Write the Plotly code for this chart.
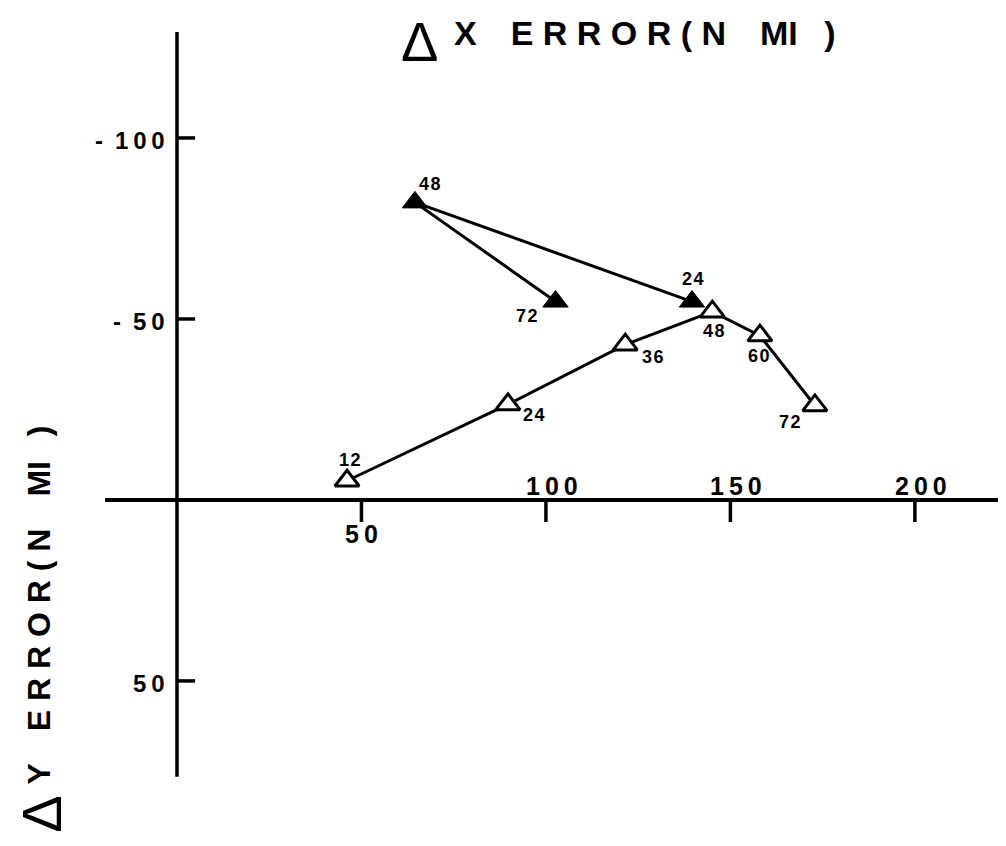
import plotly.graph_objects as go

# open triangles (forecast hours 12..72)
open_x = [46.1, 89.7, 121.5, 145.1, 158.0, 172.9]
open_y = [-5.3, -26.4, -42.9, -52.0, -45.4, -26.1]
open_lbl = ["12", "24", "36", "48", "60", "72"]

# filled triangles
fill_x = [102.6, 64.5, 139.6]
fill_y = [-54.8, -82.2, -54.8]
fill_lbl = ["72", "48", "24"]

x_ticks = [50, 100, 150, 200]
y_ticks = [-100, -50, 50]

# label offsets in pixels (dx, dy), dy up
open_off = [(3, 21), (26, -11), (28, -12), (2, -19), (-1, -20), (-25, -17)]
fill_off = [(-29, -14), (15, 18), (1, 23)]

FONT = "Liberation Sans, Arial, sans-serif"
THIN = "\u2009"
NB = "\u00a0"
EN = "\u2002"


def track(s, sep="\u200a"):
    """Spread characters apart a little, like the old lettering."""
    return sep.join(s)


def title_text(letter):
    word = NB.join("ERROR(N")
    return "<b>" + letter + EN + EN + word + EN + EN + "MI" + EN + NB + ")</b>"


fig = go.Figure()
fig.add_trace(go.Scatter(
    x=open_x, y=open_y, mode="lines+markers",
    line=dict(color="black", width=3),
    marker=dict(symbol="triangle-up", size=21, color="white",
                line=dict(color="black", width=3)),
))
fig.add_trace(go.Scatter(
    x=fill_x, y=fill_y, mode="lines+markers",
    line=dict(color="black", width=3),
    marker=dict(symbol="triangle-up", size=22, color="black",
                line=dict(color="black", width=1)),
))

ann = []
for x, y, t, (dx, dy) in zip(open_x + fill_x, open_y + fill_y,
                             open_lbl + fill_lbl, open_off + fill_off):
    ann.append(dict(x=x, y=y, text="<b>" + track(t) + "</b>", showarrow=False,
                    xshift=dx, yshift=dy,
                    font=dict(size=18, family=FONT, color="black")))

shapes = [
    dict(type="line", x0=-19.5, x1=228, y0=0, y1=0, line=dict(color="black", width=4)),
    dict(type="line", x0=0, x1=0, y0=-129.3, y1=76.5, line=dict(color="black", width=3.5)),
]
for v in x_ticks:
    shapes.append(dict(type="line", x0=v, x1=v, y0=0, y1=6.1, line=dict(color="black", width=3.5)))
    if v == 50:
        ann.append(dict(x=v, y=0, text="<b>" + track(str(v), THIN) + "</b>", showarrow=False,
                        xshift=0, yshift=-34,
                        font=dict(size=25, family=FONT, color="black")))
    else:
        ann.append(dict(x=v, y=0, text="<b>" + track(str(v), THIN) + "</b>", showarrow=False,
                        xshift=6, yshift=14,
                        font=dict(size=25, family=FONT, color="black")))
for v in y_ticks:
    shapes.append(dict(type="line", x0=0, x1=4.9, y0=v, y1=v, line=dict(color="black", width=3.5)))
    txt = track(str(abs(v)), THIN)
    if v < 0:
        txt = "-" + EN + txt
    ann.append(dict(x=0, y=v, text="<b>" + txt + "</b>", showarrow=False,
                    xanchor="right", xshift=-10, yshift=-3,
                    font=dict(size=24, family=FONT, color="black")))

# x title: big outline delta, then spaced lettering
ann.append(dict(xref="paper", yref="paper", x=0.412, y=1.0, showarrow=False,
                xanchor="center", yanchor="top", text="Δ",
                font=dict(size=56, family=FONT, color="black")))
ann.append(dict(xref="paper", yref="paper", x=0.445, y=0.970, showarrow=False,
                xanchor="left", yanchor="middle", text=title_text("X"),
                font=dict(size=34, family=FONT, color="black")))

# y title, rotated
ann.append(dict(xref="paper", yref="paper", x=0.0, y=0.038, showarrow=False,
                xanchor="left", yanchor="middle", textangle=-90, text="Δ",
                font=dict(size=56, family=FONT, color="black")))
ann.append(dict(xref="paper", yref="paper", x=0.031, y=0.288, showarrow=False,
                xanchor="center", yanchor="middle", textangle=-90, text=title_text("Y"),
                font=dict(size=32, family=FONT, color="black")))

fig.update_layout(
    width=998, height=838,
    margin=dict(l=0, r=0, t=0, b=0),
    paper_bgcolor="white", plot_bgcolor="white",
    showlegend=False,
    shapes=shapes, annotations=ann,
    xaxis=dict(range=[-45.8, 224.7], visible=False),
    yaxis=dict(range=[95.6, -135.9], visible=False),
)

fig.write_html("out.html")
